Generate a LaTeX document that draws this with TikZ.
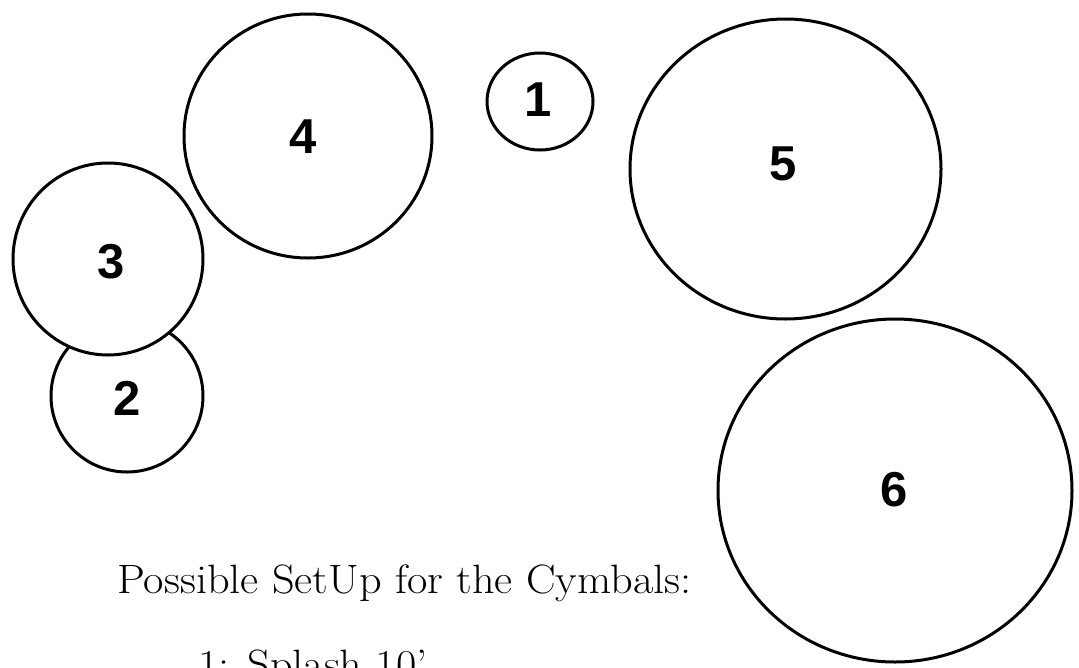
\documentclass[tikz,border=0pt]{standalone}
\usepackage{fontspec}
\newfontfamily\numfont{Liberation Sans}
\usetikzlibrary{shapes.geometric}
\begin{document}
\begin{tikzpicture}[x=1pt,y=-1pt,
  cym/.style={draw=black, line width=3pt, fill=white, ellipse, inner sep=0pt},
  num/.style={font=\numfont\bfseries\fontsize{49}{49}\selectfont, inner sep=0pt},
  txt/.style={font=\fontsize{41}{48}\selectfont, inner sep=0pt, anchor=base west}]
\useasboundingbox (0,0) rectangle (1079,667);
\node[cym, minimum width=152, minimum height=152] (c2) at (127,396) {};
\node[cym, minimum width=190, minimum height=192] (c3) at (108,259) {};
\node[cym, minimum width=248, minimum height=244] (c4) at (308,136) {};
\node[cym, minimum width=106, minimum height=97] (c1) at (540,101.5) {};
\node[cym, minimum width=311, minimum height=300] (c5) at (785.5,169) {};
\node[cym, minimum width=354, minimum height=343] (c6) at (895,490.5) {};
\node[num] (n1) at (538,100) {1};
\node[num] (n2) at (127,398) {2};
\node[num] (n3) at (111,262) {3};
\node[num] (n4) at (303,137) {4};
\node[num] (n5) at (783,164) {5};
\node[num] (n6) at (894,490) {6};
\node[txt] (title) at (117,593) {\scalebox{1.08}[1]{Possible SetUp for the Cymbals:}};
\node[txt] (item1) at (198,678) {\scalebox{1.08}[1]{1: Splash 10’}};
\end{tikzpicture}
\end{document}
